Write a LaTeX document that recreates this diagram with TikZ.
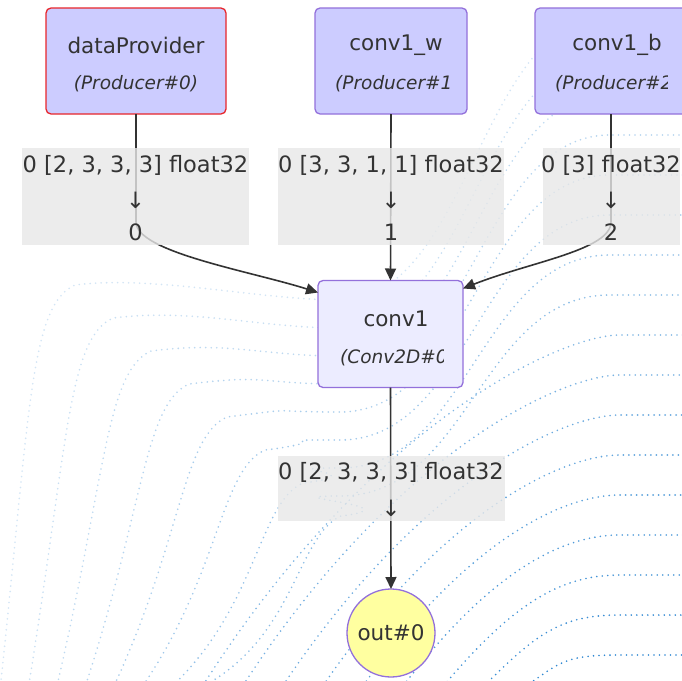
\documentclass[tikz,border=0pt]{standalone}
\usepackage{fontspec}
\setmainfont{DejaVu Sans}
\usetikzlibrary{arrows.meta,calc}
\definecolor{prodfill}{HTML}{CCCCFF}
\definecolor{opfill}{HTML}{ECECFF}
\definecolor{nodeborder}{HTML}{9370DB}
\definecolor{redborder}{HTML}{E8262B}
\definecolor{labelfill}{HTML}{E8E8E8}
\definecolor{outfill}{HTML}{FFFFA0}
\definecolor{txt}{HTML}{333333}
\definecolor{dotblue}{HTML}{1F7FCF}
\tikzset{
  nodebox/.style={draw=nodeborder, line width=1.3pt, rounded corners=5pt, fill=prodfill, inner sep=0pt, outer sep=0pt},
  lab/.style={fill=labelfill, fill opacity=0.8, inner sep=0pt, outer sep=0pt},
  maintext/.style={text=txt, inner sep=0pt, font=\fontsize{21.5}{26}\selectfont},
  labtext/.style={text=txt, inner sep=0pt, font=\fontsize{22.5}{27}\selectfont},
  subtext/.style={text=txt, inner sep=0pt, font=\fontsize{18.5}{22}\selectfont\itshape},
  edge/.style={draw=txt, line width=1.6pt, -{Triangle[length=12pt,width=11pt]}},
  bgdots/.style={draw=dotblue, line width=1.8pt, line cap=round, dash pattern=on 0pt off 5.5pt},
}
\begin{document}
\begin{tikzpicture}[x=1pt,y=-1pt]
\useasboundingbox (0,0) rectangle (682,680);
\clip (0,0) rectangle (682,680);
\fill[white] (0,0) rectangle (682,680);
% background dotted field: curves with a corner on the left
\foreach \i in {0,...,7}{
  \pgfmathsetmacro{\cx}{35+38*\i}
  \pgfmathsetmacro{\cy}{290+33*\i}
  \pgfmathsetmacro{\xb}{\cx-35-10*\i}
  \pgfmathsetmacro{\h}{300+28*\i}
  \pgfmathsetmacro{\e}{375+40*(\i-9)}
  \pgfmathsetmacro{\op}{0.2+0.045*\i}
  \draw[bgdots, draw opacity=\op] (\xb,690) .. controls (\cx-5,\cy+120) and (\cx-5,\cy+15) .. (\cx+40,\cy-5) .. controls (\cx+120,\cy-15) and (260,\h) .. (340,\h) .. controls (470,\h) and (480,\e) .. (610,\e) -- (700,\e);
}
% background dotted field: arcs rising from the bottom edge
\foreach \j in {8,...,16}{
  \pgfmathsetmacro{\xs}{200+40*(\j-8)}
  \pgfmathsetmacro{\e}{375+40*(\j-9)}
  \pgfmathsetmacro{\ax}{\xs+0.4*(620-\xs)}
  \pgfmathsetmacro{\ay}{690-0.75*(690-\e)}
  \pgfmathsetmacro{\op}{0.2+0.045*\j}
  \draw[bgdots, draw opacity=\op] (\xs,690) .. controls (\ax,\ay) and (560,\e) .. (620,\e) -- (700,\e);
}
% nodes
\node[nodebox, draw=redborder, minimum width=180pt, minimum height=106pt] (dp) at (136,61) {};
\node[maintext] (dpt) at (136,45) {dataProvider};
\node[subtext] (dps) at (136,84) {(Producer\#0)};
\node[nodebox, minimum width=152pt, minimum height=106pt] (cw) at (391,61) {};
\node[maintext] (cwt) at (396,45) {conv1\_w};
\begin{scope}
  \clip (320,66) rectangle (450,104);
  \node[subtext, anchor=west] (cws) at (335,84) {(Producer\#1)};
\end{scope}
\node[nodebox, minimum width=152pt, minimum height=106pt] (cb) at (611,61) {};
\node[maintext] (cbt) at (617,45) {conv1\_b};
\begin{scope}
  \clip (540,66) rectangle (667,104);
  \node[subtext, anchor=west] (cbs) at (555,84) {(Producer\#2)};
\end{scope}
\node[nodebox, fill=opfill, minimum width=145pt, minimum height=107pt] (conv1) at (390.5,334) {};
\node[maintext] (c1t) at (396,319) {conv1};
\begin{scope}
  \clip (325,340) rectangle (443,376);
  \node[subtext, anchor=west] (c1s) at (340,358) {(Conv2D\#0)};
\end{scope}
\node[circle, draw=nodeborder, line width=1.3pt, fill=outfill, minimum size=88pt, inner sep=0pt, outer sep=0pt] (out) at (391,633) {};
\node[maintext] (outt) at (391,633) {out\#0};
% edges
\draw[edge] (dp.south) -- ($(dp.south)+(0,108)$) .. controls +(0,30) and (250,271) .. ($(conv1.north west)+(0,12)$);
\draw[edge] (cw.south) -- (conv1.north);
\draw[edge] (cb.south) -- ($(cb.south)+(0,108)$) .. controls +(0,28) and (530,262) .. ($(conv1.north east)+(0,8)$);
\draw[edge] (conv1.south) -- (out.north);
% edge labels
\node[lab, minimum width=227pt, minimum height=97pt] (l0) at (135.5,196.5) {};
\node[labtext] (l0a) at (135.5,165) {0 [2, 3, 3, 3] float32};
\node[labtext] (l0b) at (135.5,200) {↓};
\node[labtext] (l0c) at (135.5,232) {0};
\node[lab, minimum width=226pt, minimum height=97pt] (l1) at (391,196.5) {};
\node[labtext] (l1a) at (391,165) {0 [3, 3, 1, 1] float32};
\node[labtext] (l1b) at (391,200) {↓};
\node[labtext] (l1c) at (391,232) {1};
\node[lab, minimum width=137pt, minimum height=97pt] (l2) at (611,196.5) {};
\node[labtext] (l2a) at (611,165) {0 [3] float32};
\node[labtext] (l2b) at (611,200) {↓};
\node[labtext] (l2c) at (611,232) {2};
\node[lab, minimum width=227pt, minimum height=65pt] (l3) at (391,488) {};
\node[labtext] (l3a) at (391,472) {0 [2, 3, 3, 3] float32};
\node[labtext] (l3b) at (391,508) {↓};
\end{tikzpicture}
\end{document}
